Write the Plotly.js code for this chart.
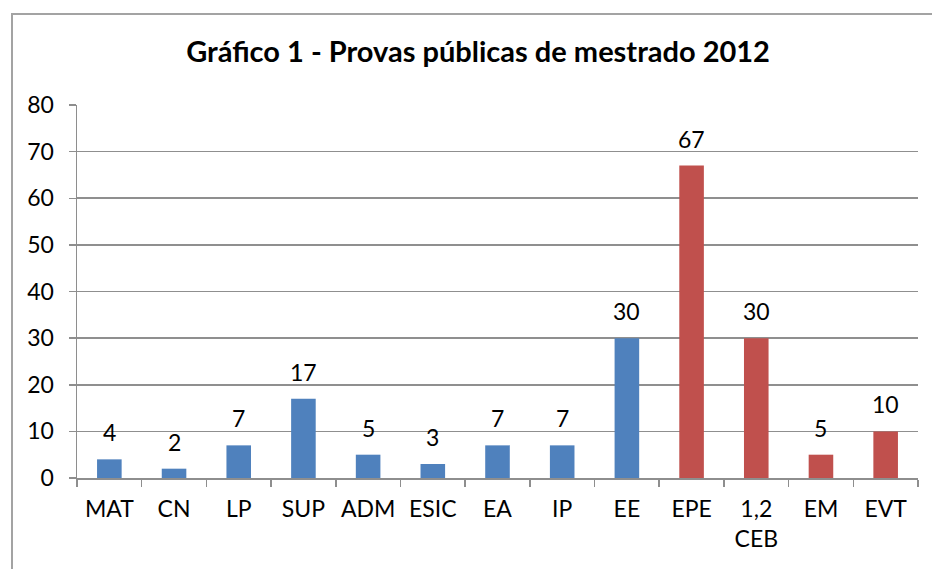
<!DOCTYPE html>
<html>
<head>
<meta charset="utf-8">
<script src="https://cdn.plot.ly/plotly-3.0.1.min.js"></script>
<style>
  html, body { margin: 0; padding: 0; background: #fff; }
  #wrap { position: relative; width: 932px; height: 569px; }
  #frame { position: absolute; left: 11px; top: 13px; right: 0; bottom: 0;
           border-left: 2px solid #a3a3a3; border-top: 2px solid #a3a3a3; pointer-events: none; z-index: 5; }
  #chart { position: absolute; left: 0; top: 0; width: 932px; height: 569px; }
</style>
</head>
<body>
<div id="wrap">
  <div id="chart"></div>
  <div id="frame"></div>
</div>
<script>
const categories = ["MAT", "CN", "LP", "SUP", "ADM", "ESIC", "EA", "IP", "EE", "EPE", "1,2<br>CEB", "EM", "EVT"];
const values = [4, 2, 7, 17, 5, 3, 7, 7, 30, 67, 30, 5, 10];
const groups = ["a", "a", "a", "a", "a", "a", "a", "a", "a", "b", "b", "b", "b"];
const yTicks = [0, 10, 20, 30, 40, 50, 60, 70, 80];
const titleText = "Gráfico 1 - Provas públicas de mestrado 2012";

const groupColor = { a: "#4F81BD", b: "#C0504D" };
const FONT = "Lato, 'Open Sans', sans-serif";

const trace = {
  type: "bar",
  x: categories,
  y: values,
  marker: { color: groups.map(g => groupColor[g]), line: { width: 0 } },
  hoverinfo: "x+y"
};

const annotations = categories.map((c, i) => ({
  x: c, y: values[i], xref: "x", yref: "y",
  text: String(values[i]), showarrow: false,
  yanchor: "bottom", yshift: 11,
  font: { family: FONT, size: 23, color: "#000" }
}));

const layout = {
  width: 932, height: 569,
  margin: { l: 77, r: 14, t: 105, b: 91 },
  paper_bgcolor: "#fff", plot_bgcolor: "#fff",
  bargap: 0.62,
  showlegend: false,
  title: {
    text: "<b>" + titleText + "</b>",
    xref: "container", yref: "container",
    x: 0.513, y: 0.908, xanchor: "center", yanchor: "middle",
    font: { family: FONT, size: 29, color: "#000" }
  },
  xaxis: {
    type: "category",
    showgrid: false,
    showline: true, linecolor: "#8e8e8e", linewidth: 1.5,
    ticks: "outside", tickson: "boundaries", ticklen: 7, tickcolor: "#8e8e8e", tickwidth: 1.5,
    ticklabelstandoff: 10,
    tickfont: { family: FONT, size: 23, color: "#000" },
    fixedrange: true
  },
  yaxis: {
    range: [0, 80],
    tickvals: yTicks,
    ticktext: yTicks.map(String),
    showgrid: true, gridcolor: "#8f8f8f", gridwidth: 1.6,
    zeroline: false,
    showline: true, linecolor: "#8e8e8e", linewidth: 1.5,
    ticks: "outside", ticklen: 7, tickcolor: "#8e8e8e", tickwidth: 1.5,
    ticklabelstandoff: 10,
    tickfont: { family: FONT, size: 23, color: "#000" },
    fixedrange: true
  },
  annotations: annotations
};

Plotly.newPlot("chart", [trace], layout, { displayModeBar: false, staticPlot: true });
</script>
</body>
</html>
